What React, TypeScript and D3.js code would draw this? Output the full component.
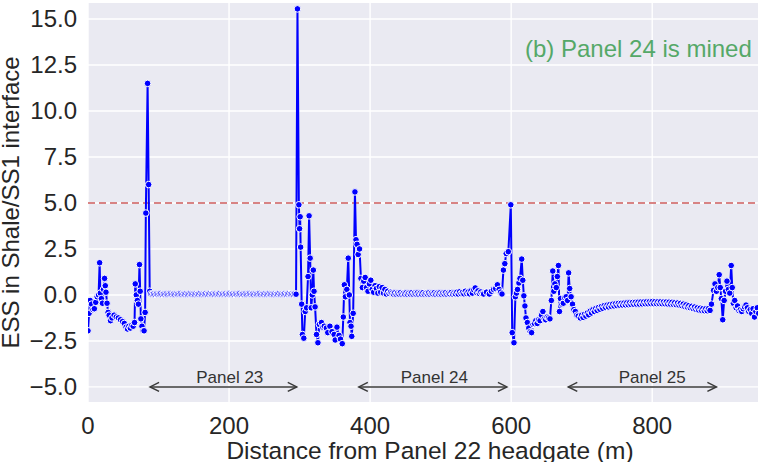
import React from "react";
import * as d3 from "d3";

// ESS readings along the roadway, split by stretch of ground: [distance (m), ESS]
const westEnd: [number, number][] = [
  [0, -1.95], [1.5, -1.0], [3, -0.3], [5, -0.5], [7, -0.8], [9, -0.75], [11, -0.4], [13, -0.1],
  [15, 0.0], [16.5, 1.75], [17.5, 0.1], [19, -0.2], [20.5, -0.45], [22, 0.3], [23.5, 0.9], [24.5, 0.5],
  [25.5, 0.15], [27, -0.45], [28.5, -0.95], [30, -1.1], [32, -1.4], [34, -1.25], [37, -1.1], [40, -1.2],
  [43, -1.25], [46, -1.35], [49, -1.45], [51.5, -1.55], [54, -1.75], [56, -1.85], [58, -1.7], [60, -1.8],
  [62, -1.65], [64, -1.7], [66, -1.5], [67, 0.6], [68.5, 0.0], [70, -0.3], [71.5, -0.5], [73, 1.65],
  [74, 0.2], [75, -1.3], [76.5, -1.7], [78, -1.95], [79.5, -1.95], [81, -0.95], [82, 4.45], [84.5, 11.5],
  [86, 6.0], [87.5, 0.2],
];

const panel23Span: [number, number][] = [
  [89, 0.06], [91, 0.04], [93, 0.05], [95, 0.03], [97, 0.06], [99, 0.04], [101, 0.05], [103, 0.07],
  [105, 0.03], [107, 0.05], [109, 0.04], [111, 0.06], [113, 0.03], [115, 0.05], [117, 0.07], [119, 0.04],
  [121, 0.05], [123, 0.03], [125, 0.06], [127, 0.04], [129, 0.05], [131, 0.07], [133, 0.03], [135, 0.05],
  [137, 0.04], [139, 0.06], [141, 0.03], [143, 0.05], [145, 0.07], [147, 0.04], [149, 0.05], [151, 0.03],
  [153, 0.06], [155, 0.04], [157, 0.05], [159, 0.07], [161, 0.03], [163, 0.05], [165, 0.04], [167, 0.06],
  [169, 0.03], [171, 0.05], [173, 0.07], [175, 0.04], [177, 0.05], [179, 0.03], [181, 0.06], [183, 0.04],
  [185, 0.05], [187, 0.07], [189, 0.03], [191, 0.05], [193, 0.04], [195, 0.06], [197, 0.03], [199, 0.05],
  [201, 0.07], [203, 0.04], [205, 0.05], [207, 0.03], [209, 0.06], [211, 0.04], [213, 0.05], [215, 0.07],
  [217, 0.03], [219, 0.05], [221, 0.04], [223, 0.06], [225, 0.03], [227, 0.05], [229, 0.07], [231, 0.04],
  [233, 0.05], [235, 0.03], [237, 0.06], [239, 0.04], [241, 0.05], [243, 0.07], [245, 0.03], [247, 0.05],
  [249, 0.04], [251, 0.06], [253, 0.03], [255, 0.05], [257, 0.07], [259, 0.04], [261, 0.05], [263, 0.03],
  [265, 0.06], [267, 0.04], [269, 0.05], [271, 0.07], [273, 0.03], [275, 0.05], [277, 0.04], [279, 0.06],
  [281, 0.03], [283, 0.05], [285, 0.07], [287, 0.04], [289, 0.05], [291, 0.03], [293, 0.06], [295, 0.04],
];

const pillar2324: [number, number][] = [
  [297, 15.55], [299, 4.9], [300, 3.6], [300.8, 4.25], [301.5, 2.6], [303, -0.5], [304, -2.15], [306, -2.35],
  [308, -0.9], [310, -0.7], [312, 1.0], [313.5, 4.3], [315, 2.0], [316.5, -0.7], [318, 0.0], [319.5, 1.35],
  [320.5, 0.2], [322, -0.65], [324, -2.15], [326, -2.6], [328, -1.6], [331, -1.5], [333, -1.75], [335, -1.7],
  [338, -1.8], [340, -2.05], [343, -1.7], [346, -2.0], [349, -2.15], [350.5, -2.45], [353, -1.75], [356, -2.2],
  [358, -2.4], [360.5, -2.65], [362, -1.2], [363.5, 0.55], [365, -0.1], [367, 0.3], [369, 2.0], [370.5, 0.0],
  [371.5, -1.5], [373, -1.7], [374, -2.25], [376, -1.0], [378.5, 5.6], [380, 3.0], [381.5, 2.75], [383, 2.2],
  [385, 2.5], [387, 0.9], [389, 0.4], [391, 0.75], [393, 0.95], [395, 0.4], [397, 0.2], [399, 0.6],
  [401, 0.8], [403, 0.3], [405, 0.15], [407, 0.5], [409, 0.35], [411, 0.1], [413, 0.45], [415, 0.15],
  [417, 0.4], [419, 0.1], [421, 0.3], [423, 0.05], [425, 0.2], [427, 0.08], [429, 0.15],
];

const panel24Span: [number, number][] = [
  [431, 0.1], [433, 0.05], [435, 0.11], [437, 0.04], [439, 0.1], [441, 0.05], [443, 0.12], [445, 0.04],
  [447, 0.09], [449, 0.05], [451, 0.11], [453, 0.04], [455, 0.1], [457, 0.05], [459, 0.12], [461, 0.04],
  [463, 0.1], [465, 0.05], [467, 0.11], [469, 0.04], [471, 0.1], [473, 0.05], [475, 0.12], [477, 0.04],
  [479, 0.09], [481, 0.05], [483, 0.11], [485, 0.04], [487, 0.1], [489, 0.06], [491, 0.12], [493, 0.04],
  [495, 0.1], [497, 0.05], [499, 0.11], [501, 0.04], [503, 0.1], [505, 0.05], [507, 0.12], [509, 0.04],
  [511, 0.1], [513, 0.06], [515, 0.13], [517, 0.05], [519, 0.11], [521, 0.06], [523, 0.15], [525, 0.05],
  [527, 0.17], [529, 0.07], [531, 0.14], [533, 0.06], [535, 0.2], [537, 0.08], [539, 0.16], [541, 0.06],
  [543, 0.22], [545, 0.1], [547, 0.28], [549, 0.38], [551, 0.14], [553, 0.22], [555, 0.08], [557, 0.16],
  [559, 0.06],
];

const pillar2425: [number, number][] = [
  [561, 0.05], [565, 0.15], [569, 0.05], [572, 0.2], [575, 0.3], [578, 0.35], [580.5, 0.55], [583, 0.3],
  [585, 0.15], [587, 0.05], [589, 1.35], [591, 1.7], [593, 2.25], [596, 2.35], [599.5, 4.9], [601.5, -2.05],
  [604, -2.6], [606, -0.1], [607.5, 0.1], [609, 0.3], [611, 0.65], [612.5, 0.9], [615, 1.95], [616.5, 0.8],
  [618, -0.05], [619.5, -0.6], [621, -1.25], [623, -1.5], [625, -1.8], [627, -2.0], [629, -2.05], [631, -1.6],
  [633, -1.55], [635, -1.4], [637, -1.55], [639, -1.35], [641, -1.4], [643, -1.1], [645, -0.9], [647, -1.3],
  [649, -1.35], [651, -1.2], [653, -1.25], [655, -1.3], [657, -0.3], [659, 1.3], [660.5, 0.2], [662, 0.6],
  [664, 0.4], [665.5, 1.0], [667, 1.6], [668.5, -0.9], [670, -0.2], [672, -0.5], [674, -0.45], [676, -0.15],
  [678, -0.1], [680, -0.3], [681.5, 1.2], [683, 0.35], [685, -0.1], [687, -0.5], [689, -0.8], [691, -0.9],
  [693, -1.1], [695, -1.15], [698, -1.25],
];

const panel25Span: [number, number][] = [
  [700, -1.1], [702, -1.22], [704, -1.05], [706, -1.15], [708, -0.98], [710, -1.08], [712, -0.88], [714, -0.98],
  [716, -0.8], [718, -0.9], [720, -0.74], [722, -0.84], [724, -0.68], [726, -0.78], [728, -0.63], [730, -0.73],
  [732, -0.58], [734, -0.68], [736, -0.55], [738, -0.65], [740, -0.52], [742, -0.62], [744, -0.5], [746, -0.6],
  [748, -0.48], [750, -0.58], [752, -0.46], [754, -0.56], [756, -0.45], [758, -0.55], [760, -0.44], [762, -0.54],
  [764, -0.43], [766, -0.53], [768, -0.42], [770, -0.52], [772, -0.41], [774, -0.51], [776, -0.4], [778, -0.5],
  [780, -0.39], [782, -0.5], [784, -0.38], [786, -0.49], [788, -0.38], [790, -0.48], [792, -0.37], [794, -0.48],
  [796, -0.37], [798, -0.47], [800, -0.36], [802, -0.47], [804, -0.36], [806, -0.47], [808, -0.37], [810, -0.47],
  [812, -0.37], [814, -0.48], [816, -0.38], [818, -0.48], [820, -0.38], [822, -0.49], [824, -0.39], [826, -0.5],
  [828, -0.4], [830, -0.51], [832, -0.42], [834, -0.53], [836, -0.44], [838, -0.55], [840, -0.46], [842, -0.58],
  [844, -0.5], [846, -0.62], [848, -0.54], [850, -0.66], [852, -0.58], [854, -0.7], [856, -0.62], [858, -0.74],
  [860, -0.66], [862, -0.78], [864, -0.7], [866, -0.82], [868, -0.72], [870, -0.84], [872, -0.74], [874, -0.86],
  [876, -0.75], [878, -0.86], [880, -0.74], [882, -0.84], [884, -0.5],
];

const eastEnd: [number, number][] = [
  [887, 0.25], [889, 0.6], [891, 0.2], [893, 0.4], [895, 1.1], [896.5, 0.4], [898, -0.2], [900, -1.35],
  [902, -0.3], [904, 0.2], [906, 0.75], [908, 0.3], [910, 0.1], [912, 1.6], [913.5, 0.4], [915, -0.45],
  [917, -0.3], [919, -0.7], [921, -0.6], [923, -0.85], [925, -0.8], [927, -0.9], [929, -0.75], [931, -0.65],
  [933, -0.55], [935, -0.7], [937, -0.9], [939, -0.8], [941, -1.0], [943, -0.75], [945, -1.2], [947, -0.9],
  [949, -0.7], [951, -1.0],
];

const essSeries = [
  ...westEnd, ...panel23Span, ...pillar2324, ...panel24Span, ...pillar2425, ...panel25Span, ...eastEnd,
];

// Panel extents drawn as double arrows, with their label positions
const panelNames = ["Panel 23", "Panel 24", "Panel 25"];
const panelStarts = [88, 384, 681];
const panelEnds = [296, 594, 891];
const panelLabelAt = [201, 491, 800];
const panelArrowLevel = -5.0;

const thresholdEss = 5.0;
const xTicks = [0, 200, 400, 600, 800];
const yTicks = [-5, -2.5, 0, 2.5, 5, 7.5, 10, 12.5, 15];
const xDomain: [number, number] = [0, 950];
const yDomain: [number, number] = [-5.82, 15.87];

const W = 758;
const H = 462;
const plot = { left: 88, right: 758, top: 3, bottom: 402 };
const FONT = "'Liberation Sans', Arial, sans-serif";

export default function App() {
  const x = d3.scaleLinear().domain(xDomain).range([plot.left, plot.right]);
  const y = d3.scaleLinear().domain(yDomain).range([plot.bottom, plot.top]);
  const fmtY = d3.format(".1f");

  const line = d3
    .line<[number, number]>()
    .x((d) => x(d[0]))
    .y((d) => y(d[1]));

  const arrowHead = (tipX: number, tipY: number, dir: number) => {
    const len = 9;
    const half = 4.5;
    return `M${tipX + dir * len},${tipY - half} L${tipX},${tipY} L${tipX + dir * len},${tipY + half}`;
  };

  return (
    <svg
      width={W}
      height={H}
      style={{ position: "absolute", left: 0, top: 0, display: "block", background: "#fff" }}
    >
      <defs>
        <clipPath id="plotArea">
          <rect x={plot.left} y={plot.top} width={plot.right - plot.left} height={plot.bottom - plot.top} />
        </clipPath>
      </defs>
      <rect
        x={plot.left}
        y={plot.top}
        width={plot.right - plot.left}
        height={plot.bottom - plot.top}
        fill="#EAEAF2"
      />
      {/* grid */}
      {xTicks.map((t) => (
        <line key={`gx${t}`} x1={x(t)} x2={x(t)} y1={plot.top} y2={plot.bottom} stroke="#fff" strokeWidth={1.4} />
      ))}
      {yTicks.map((t) => (
        <line key={`gy${t}`} x1={plot.left} x2={plot.right} y1={y(t)} y2={y(t)} stroke="#fff" strokeWidth={1.4} />
      ))}

      <g clipPath="url(#plotArea)">
        {/* ESS threshold */}
        <line
          x1={plot.left}
          x2={plot.right}
          y1={y(thresholdEss)}
          y2={y(thresholdEss)}
          stroke="#CD5C5C"
          strokeWidth={1.6}
          strokeDasharray="7,4"
        />
        <path d={line(essSeries) ?? ""} fill="none" stroke="#0000FF" strokeWidth={2} strokeLinejoin="round" />
        {essSeries.map((d, i) => (
          <circle key={i} cx={x(d[0])} cy={y(d[1])} r={3.3} fill="#0000FF" stroke="#fff" strokeWidth={1} />
        ))}
      </g>

      {/* panel extents */}
      {panelNames.map((name, i) => {
        const x0 = x(panelStarts[i]);
        const x1 = x(panelEnds[i]);
        const yy = y(panelArrowLevel);
        return (
          <g key={name} stroke="#3a3a3a" strokeWidth={1.5} fill="none">
            <line x1={x0} x2={x1} y1={yy} y2={yy} />
            <path d={arrowHead(x0, yy, 1)} />
            <path d={arrowHead(x1, yy, -1)} />
            <text
              x={x(panelLabelAt[i])}
              y={yy - 3.5}
              textAnchor="middle"
              fontFamily={FONT}
              fontSize={17}
              fill="#333"
              stroke="none"
            >
              {name}
            </text>
          </g>
        );
      })}

      <text x={525} y={57} fontFamily={FONT} fontSize={24} fill="#55A868">
        (b) Panel 24 is mined
      </text>

      {/* tick labels */}
      {yTicks.map((t) => (
        <text
          key={`ty${t}`}
          x={77}
          y={y(t)}
          dy="0.35em"
          textAnchor="end"
          fontFamily={FONT}
          fontSize={24}
          fill="#262626"
        >
          {fmtY(t)}
        </text>
      ))}
      {xTicks.map((t) => (
        <text
          key={`tx${t}`}
          x={x(t)}
          y={434}
          textAnchor="middle"
          fontFamily={FONT}
          fontSize={24}
          fill="#262626"
        >
          {t}
        </text>
      ))}

      <text
        x={430}
        y={459}
        textAnchor="middle"
        fontFamily={FONT}
        fontSize={24.5}
        fill="#262626"
      >
        Distance from Panel 22 headgate (m)
      </text>
      <text
        transform={`translate(19,${(plot.top + plot.bottom) / 2}) rotate(-90)`}
        textAnchor="middle"
        fontFamily={FONT}
        fontSize={24}
        fill="#262626"
      >
        ESS in Shale/SS1 interface
      </text>
    </svg>
  );
}
